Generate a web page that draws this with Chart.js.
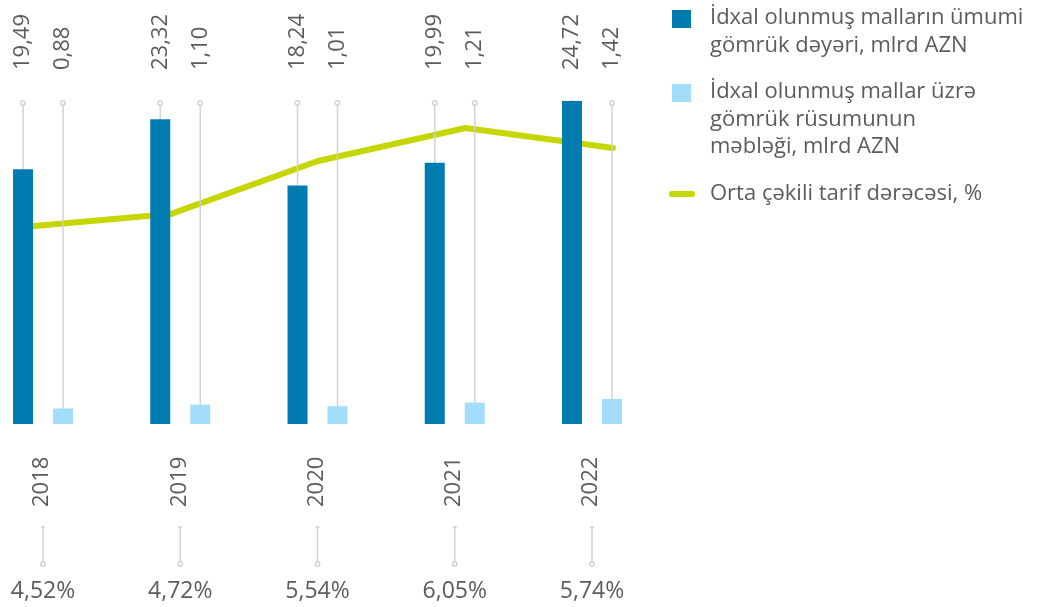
<!DOCTYPE html>
<html>
<head>
<meta charset="utf-8">
<script src="https://cdn.jsdelivr.net/npm/chart.js@4/dist/chart.umd.min.js"></script>
<style>
  body { margin: 0; background: #fff; font-family: 'Open Sans', sans-serif; }
  #wrap { position: relative; width: 1054px; height: 607px; }
  #chart { position: absolute; left: 0; top: 0; }
  .legend { position: absolute; left: 669px; top: 2px; color: #595c60; font-size: 22px; line-height: 27.5px; }
  .item { position: relative; padding-left: 41px; margin-bottom: 19px; }
  .mark { position: absolute; left: 3px; top: 8px; width: 19px; height: 18px; }
  .mark.line { left: 0; top: 13px; width: 26px; height: 6px; border-radius: 3px; }
</style>
</head>
<body>
<div id="wrap">
  <canvas id="chart" width="1054" height="607"></canvas>
  <div class="legend">
    <div class="item"><span class="mark" style="background:#007cb1"></span>İdxal olunmuş malların ümumi<br>gömrük dəyəri, mlrd AZN</div>
    <div class="item"><span class="mark" style="background:#a4dcfc"></span>İdxal olunmuş mallar üzrə<br>gömrük rüsumunun<br>məbləği, mlrd AZN</div>
    <div class="item"><span class="mark line" style="background:#c5d600"></span>Orta çəkili tarif dərəcəsi, %</div>
  </div>
</div>
<script>
// data
const years = ['2018', '2019', '2020', '2021', '2022'];
const customsValue = [19.49, 23.32, 18.24, 19.99, 24.72];
const customsDuty = [0.88, 1.10, 1.01, 1.21, 1.42];
const tariffRate = [4.52, 4.72, 5.54, 6.05, 5.74];

const textColor = '#595c60';
const greyLine = '#d2d2d2';
const fontName = "'Open Sans', sans-serif";

function fmt(v) {
    return v.toFixed(2).replace('.', ',');
}

// gray guides, labels, connectors
const decorPlugin = {
    id: 'decor',
    afterDatasetDraw(chart, args) {
        if (args.index !== 2) return;
        const ctx = chart.ctx;
        const bottom = chart.chartArea.bottom;
        ctx.save();
        ctx.strokeStyle = greyLine;
        ctx.lineWidth = 1.5;
        for (let d = 0; d < 2; d++) {
            chart.getDatasetMeta(d).data.forEach(bar => {
                ctx.beginPath();
                ctx.moveTo(bar.x, 105);
                ctx.lineTo(bar.x, bottom);
                ctx.stroke();
                ctx.beginPath();
                ctx.fillStyle = '#fff';
                ctx.arc(bar.x, 103, 2.2, 0, Math.PI * 2);
                ctx.fill();
                ctx.stroke();
            });
        }
        ctx.restore();
    },
    afterDraw(chart) {
        const ctx = chart.ctx;
        const dark = chart.getDatasetMeta(0).data;
        const light = chart.getDatasetMeta(1).data;
        ctx.save();
        ctx.fillStyle = textColor;
        ctx.font = '22px ' + fontName;
        ctx.textBaseline = 'middle';

        // values above bars
        const sets = [customsValue, customsDuty];
        sets.forEach((vals, d) => {
            chart.getDatasetMeta(d).data.forEach((bar, i) => {
                ctx.save();
                ctx.translate(bar.x, 70);
                ctx.rotate(-Math.PI / 2);
                ctx.textAlign = 'left';
                ctx.fillText(fmt(vals[i]), 0, 0);
                ctx.restore();
            });
        });

        years.forEach((yr, i) => {
            const cx = (dark[i].x + light[i].x) / 2;
            // year label
            ctx.save();
            ctx.translate(cx - 1, 507);
            ctx.rotate(-Math.PI / 2);
            ctx.textAlign = 'left';
            ctx.fillText(yr, 0, 0);
            ctx.restore();

            // connector
            ctx.save();
            ctx.strokeStyle = greyLine;
            ctx.lineWidth = 1.5;
            ctx.beginPath();
            ctx.moveTo(cx - 2, 527);
            ctx.lineTo(cx + 2, 527);
            ctx.moveTo(cx, 527);
            ctx.lineTo(cx, 562);
            ctx.stroke();
            ctx.beginPath();
            ctx.fillStyle = '#fff';
            ctx.arc(cx, 564, 2.2, 0, Math.PI * 2);
            ctx.fill();
            ctx.stroke();
            ctx.restore();

            // rate label
            ctx.save();
            ctx.font = '23px ' + fontName;
            ctx.textAlign = 'center';
            ctx.textBaseline = 'alphabetic';
            ctx.fillText(fmt(tariffRate[i]) + '%', cx, 598);
            ctx.restore();
        });
        ctx.restore();
    }
};

const ctx = document.getElementById('chart').getContext('2d');
const chart = new Chart(ctx, {
    type: 'bar',
    data: {
        labels: years,
        datasets: [
            {
                label: 'İdxal olunmuş malların ümumi gömrük dəyəri, mlrd AZN',
                data: customsValue,
                backgroundColor: '#007cb1',
                yAxisID: 'yValue',
                order: 1,
                clip: false
            },
            {
                label: 'İdxal olunmuş mallar üzrə gömrük rüsumunun məbləği, mlrd AZN',
                data: customsDuty,
                backgroundColor: '#a4dcfc',
                yAxisID: 'yDuty',
                order: 1,
                clip: false
            },
            {
                type: 'line',
                label: 'Orta çəkili tarif dərəcəsi, %',
                data: tariffRate.map((v, i) => ({ x: Number(years[i]), y: v })),
                borderColor: '#c5d600',
                borderWidth: 6,
                borderCapStyle: 'round',
                borderJoinStyle: 'round',
                pointRadius: 0,
                tension: 0,
                xAxisID: 'xLine',
                yAxisID: 'yLine',
                order: 2,
                clip: false
            }
        ]
    },
    options: {
        responsive: false,
        animation: false,
        events: [],
        // the line sits on its own x axis, so bar chunks are split in four
        categoryPercentage: 1.1658,
        barPercentage: 0.5,
        layout: { padding: { left: 83, right: 422, top: 100, bottom: 183 } },
        plugins: { legend: { display: false }, tooltip: { enabled: false } },
        scales: {
            x: { type: 'category', offset: false, display: false },
            xLine: { type: 'linear', offset: false, display: false, min: 2018.407, max: 2022.129 },
            yValue: { display: false, min: 0, max: 24.79 },
            yDuty: { display: false, min: 0, max: 18.4 },
            yLine: { display: false, min: 1.475, max: 6.483 }
        }
    },
    plugins: [decorPlugin]
});
</script>
</body>
</html>
